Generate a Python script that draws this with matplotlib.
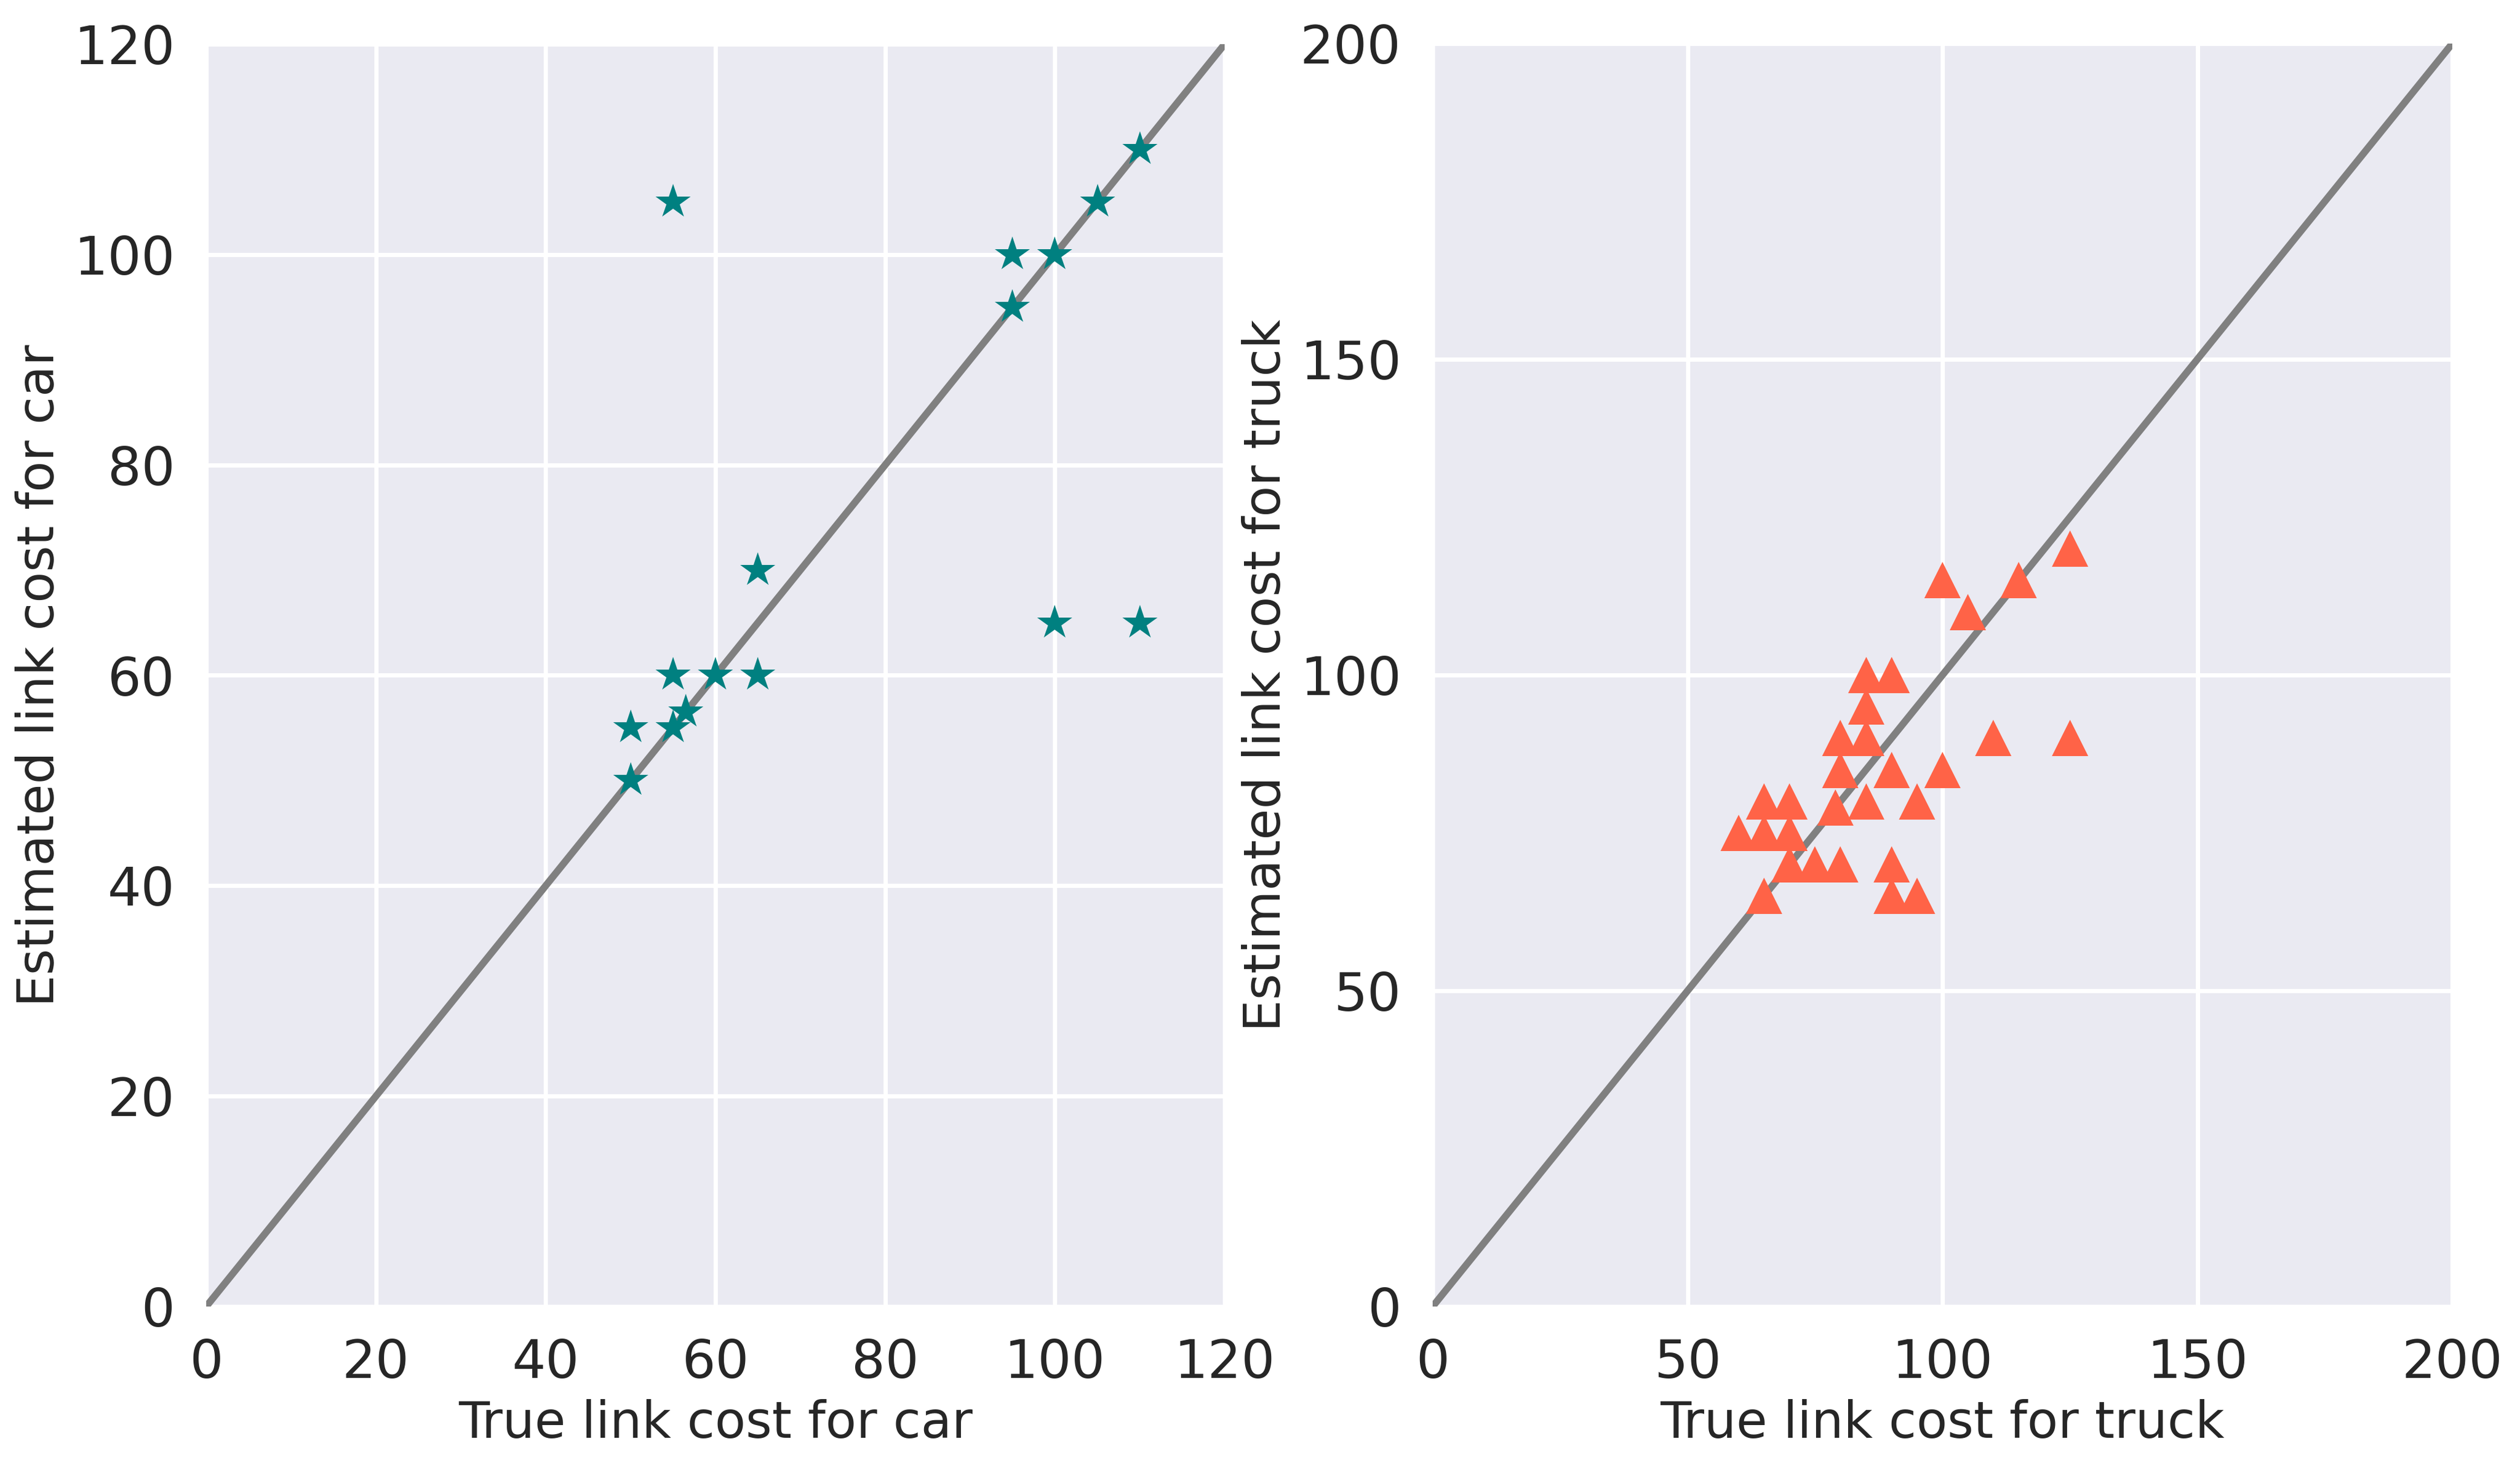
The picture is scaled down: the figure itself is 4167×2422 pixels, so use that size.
import matplotlib
matplotlib.use("Agg")
import matplotlib.pyplot as plt
import seaborn as sns

# car: true vs estimated link cost
car_true = [50, 50, 55, 55, 56.5, 60, 65, 65, 55, 95, 95, 100, 105, 110, 100, 110]
car_est = [50, 55, 55, 60, 56.5, 60, 60, 70, 105, 95, 100, 100, 105, 110, 65, 65]

# truck: true vs estimated link cost
truck_true = [100, 105, 115, 125, 85, 90, 85, 80, 85, 110, 125, 80, 90, 100,
              65, 70, 79, 85, 95, 60, 65, 70, 70, 75, 80, 90, 65, 90, 95]
truck_est = [115, 110, 115, 120, 100, 100, 95, 90, 90, 90, 90, 85, 85, 85,
             80, 80, 79, 80, 80, 75, 75, 75, 70, 70, 70, 70, 65, 65, 65]

car_ticks = [0, 20, 40, 60, 80, 100, 120]
truck_ticks = [0, 50, 100, 150, 200]

sns.set_style("darkgrid")
plt.rcParams["font.family"] = ["DejaVu Sans"]
plt.rcParams["grid.linewidth"] = 1.7
plt.rcParams["xtick.major.pad"] = 12.5
plt.rcParams["ytick.major.pad"] = 12.5
text_col = "#262626"

W, H = 4167, 2422
fig = plt.figure(figsize=(W / 300, H / 300), dpi=300)

ax1 = fig.add_axes([341 / W, 262 / H, 1684 / W, 2087 / H])
ax2 = fig.add_axes([2369 / W, 262 / H, 1686 / W, 2088 / H])


def draw_panel(ax, xs, ys, lim, ticks, marker, color, name):
    ax.plot([0, lim], [0, lim], color="#808080", lw=2.8, zorder=2)
    ax.plot(xs, ys, ls="", marker=marker, markersize=14.4, color=color,
            markeredgewidth=0, zorder=3)
    ax.set_xlim(0, lim)
    ax.set_ylim(0, lim)
    ax.set_xticks(ticks)
    ax.set_yticks(ticks)
    ax.tick_params(labelsize=21, length=0, colors=text_col)
    ax.set_xlabel(f"True link cost for {name}", fontsize=20, color=text_col)
    ax.set_ylabel(f"Estimated link cost for {name}", fontsize=20, color=text_col)
    for s in ax.spines.values():
        s.set_visible(False)


draw_panel(ax1, car_true, car_est, 120, car_ticks, "*", "#008080", "car")
draw_panel(ax2, truck_true, truck_est, 200, truck_ticks, "^", "#FF6347", "truck")

fig.savefig("out.png", dpi=300)
